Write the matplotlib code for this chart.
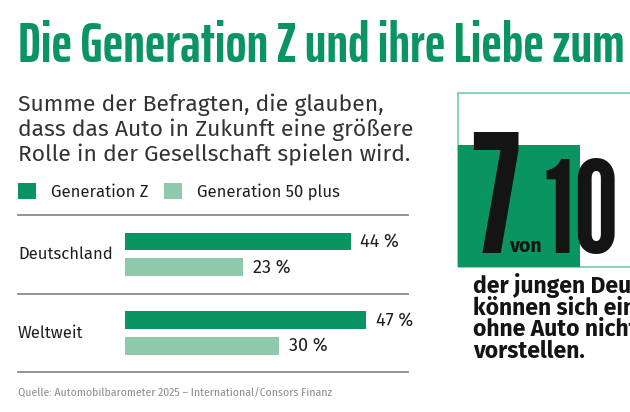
import matplotlib.pyplot as plt
from matplotlib.patches import Rectangle

# Daten
laender = ["Deutschland", "Weltweit"]
gen_z = [44, 47]
gen_50 = [23, 30]
serien = ["Generation Z", "Generation 50 plus"]

gruen = "#0a9462"
hellgruen = "#8dc9ab"
text_farbe = "#1e1e1e"

W, H = 630, 412
fig = plt.figure(figsize=(W / 100, H / 100), dpi=100)

def fx(px):
    return px / W

def fy(py):
    return 1 - py / H

body = ["Fira Sans", "Open Sans", "DejaVu Sans"]
cond = ["Saira ExtraCondensed", "Fira Sans Extra Condensed", "DejaVu Sans"]

# Titel
fig.text(fx(18), fy(62), "Die Generation Z und ihre Liebe zum", family=cond,
         weight="bold", size=39.7, color=gruen, va="baseline")

# Untertitel
untertitel = ["Summe der Befragten, die glauben,",
              "dass das Auto in Zukunft eine größere",
              "Rolle in der Gesellschaft spielen wird."]
for i, zeile in enumerate(untertitel):
    fig.text(fx(18), fy(111 + i * 25), zeile, family=body, weight="normal",
             size=16.5, color="#333333", va="baseline")

# Balken
ax = fig.add_axes([fx(18), fy(372.3), (408 - 18) / W, (372.3 - 215) / H])
ax.set_xlim(-20.87, 55.19)
ax.set_ylim(1.5, -0.5)
ax.axis("off")

y = list(range(len(laender)))
b1 = ax.barh([i - 0.162 for i in y], gen_z, height=0.224, left=0, color=gruen, label=serien[0])
b2 = ax.barh([i + 0.162 for i in y], gen_50, height=0.224, left=0, color=hellgruen, label=serien[1])

for i, (a, b) in enumerate(zip(gen_z, gen_50)):
    ax.text(a + 1.9, i - 0.162, f"{a} %", va="center", family=body, size=13, color=text_farbe)
    ax.text(b + 1.9, i + 0.162, f"{b} %", va="center", family=body, size=13, color=text_farbe)

for i, land in enumerate(laender):
    ax.text(-20.87, i, land, va="center", family=body, weight="normal", size=12, color=text_farbe)

for yl in [-0.5, 0.5, 1.5]:
    ax.axhline(yl, color="#8a8a8a", lw=1.3, clip_on=False)

leg = ax.legend(handles=[b1, b2], loc="upper left", bbox_to_anchor=(fx(18), fy(183)),
                bbox_transform=fig.transFigure, ncol=2, frameon=False, borderpad=0,
                borderaxespad=0, handlelength=1.1, handleheight=1.1, handletextpad=0.9,
                columnspacing=0.9, prop={"family": body, "weight": "normal", "size": 12})
for t in leg.get_texts():
    t.set_color(text_farbe)

# Quelle
fig.text(fx(18), fy(397), "Quelle: Automobilbarometer 2025 – International/Consors Finanz",
         family=["Fira Sans Condensed", "Saira SemiCondensed", "DejaVu Sans"], weight="normal",
         size=8.4, color="#8c8c8c", va="baseline")

# Rechte Infobox
fig.patches.append(Rectangle((fx(458), fy(267)), fx(700 - 458), (267 - 93) / H,
                             transform=fig.transFigure, facecolor="none",
                             edgecolor="#74cba8", lw=1.2, zorder=1))
fig.patches.append(Rectangle((fx(458), fy(267)), fx(580 - 458), (267 - 145) / H,
                             transform=fig.transFigure, facecolor=gruen,
                             edgecolor="none", zorder=2))

digits = ["League Gothic", "Saira ExtraCondensed", "DejaVu Sans"]
fig.text(fx(470), fy(253), "7", family=digits, weight="heavy", size=118,
         color="#141414", va="baseline", zorder=3)
fig.text(fx(509), fy(252), "von", family=body, weight="bold", size=14,
         color="#141414", va="baseline", zorder=3)
fig.text(fx(543), fy(253), "10", family=digits, weight="heavy", size=92,
         color="#141414", va="baseline", zorder=3)

info = ["der jungen Deutschen", "können sich ein Leben", "ohne Auto nicht", "vorstellen."]
for i, zeile in enumerate(info):
    fig.text(fx(473), fy(293 + i * 21.7), zeile, family=body, weight="bold", size=16.5,
             color="#141414", va="baseline")

fig.savefig("out.png", dpi=100)
